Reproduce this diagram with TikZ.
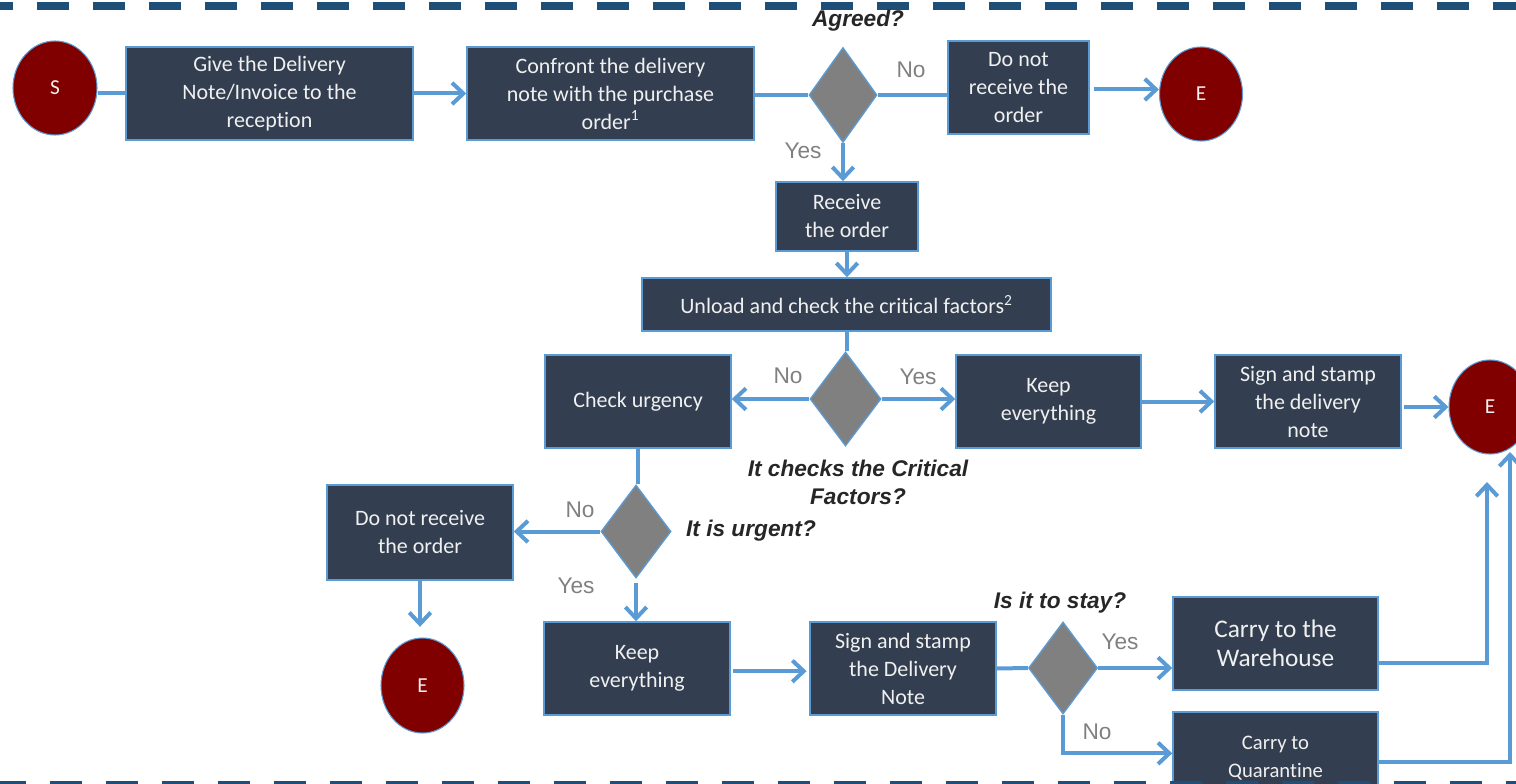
\documentclass[tikz,border=0pt]{standalone}
\usepackage{fontspec}
\setmainfont{Carlito}[Ligatures=NoCommon]
\newfontfamily\arialf{Liberation Sans}
\usetikzlibrary{arrows.meta,shapes.geometric}
\definecolor{boxfill}{HTML}{333F50}
\definecolor{edge}{HTML}{5B9BD5}
\definecolor{endred}{HTML}{800000}
\definecolor{dashblue}{HTML}{1F4E79}
\definecolor{lbl}{HTML}{808080}
\definecolor{txt}{HTML}{F0F0F0}
\begin{document}
\begin{tikzpicture}[x=0.75pt,y=-0.75pt,
  sz/.style 2 args={minimum width=#1*0.75pt, minimum height=#2*0.75pt},
  box/.style={rectangle, draw=edge, line width=1.1pt, fill=boxfill, text=txt, align=center, inner sep=0pt, font=\fontsize{16.5}{21}\selectfont},
  dec/.style={diamond, draw=edge, line width=1pt, fill=gray, inner sep=0pt},
  term/.style={ellipse, draw=edge, line width=0.8pt, fill=endred, text=txt, inner sep=0pt, font=\fontsize{16}{18}\selectfont},
  conn/.style={draw=edge, line width=3pt},
  arr/.style={conn, -{Straight Barb[length=8.5pt,width=16pt]}},
  lab/.style={text=lbl, font=\arialf\fontsize{17}{20}\selectfont},
  quest/.style={text=black!85, align=center, font=\arialf\bfseries\itshape\fontsize{17}{21}\selectfont},
  dashline/.style={dashblue, line width=6.5pt, dash pattern=on 24pt off 18pt}
]
\useasboundingbox (0,0) rectangle (1516,784);

% dashed frame lines
\draw[dashline, dash phase=14.25pt] (0,6) -- (1516,6);

% nodes
\node[term, sz={84}{94}] (s) at (55,88) {S};
\node[box, sz={287}{93}] (b1) at (269.5,93.5) {Give the Delivery\\Note/Invoice to the\\reception};
\node[box, sz={287}{93}] (b2) at (610.5,93.5) {Confront the delivery\\note with the purchase\\order\textsuperscript{1}};
\node[dec, sz={68}{95}] (d1) at (843,95) {};
\node[box, sz={141}{93}] (b3) at (1018.5,87.5) {Do not\\receive the\\order};
\node[term, sz={83}{94}] (e1) at (1201,94) {E};
\node[box, sz={142}{69}] (b4) at (847,216.5) {Receive\\the order};
\node[box, sz={409}{53}] (b5) at (846.5,304.5) {Unload and check the critical factors\textsuperscript{2}};
\node[dec, sz={71}{94}] (d2) at (845.5,399) {};
\node[box, sz={186}{93}] (cu) at (638,401.5) {Check urgency};
\node[box, sz={185}{93}] (k1) at (1048.5,401.5) {Keep\\everything};
\node[box, sz={186}{93}] (s1) at (1308,401.5) {Sign and stamp\\the delivery\\note};
\node[term, sz={82}{94}] (e2) at (1490,407) {E};
\node[dec, sz={70}{93}] (d3) at (636,531.5) {};
\node[box, sz={186}{95}] (dn) at (420,532.5) {Do not receive\\the order};
\node[term, sz={83}{95}] (e3) at (422.5,685.5) {E};
\node[box, sz={186}{93}] (k2) at (637,668.5) {Keep\\everything};
\node[box, sz={186}{93}] (s2) at (903,668.5) {Sign and stamp\\the Delivery\\Note};
\node[dec, sz={69}{92}] (d4) at (1063,668) {};
\node[box, sz={205}{93}, font=\fontsize{19}{22}\selectfont] (wareh) at (1275.5,643.5) {Carry to the\\Warehouse};
\node[box, sz={205}{92}, font=\fontsize{15.5}{21}\selectfont] (qu) at (1275.5,758) {Carry to\\Quarantine};

\draw[dashline, dash phase=4.5pt] (0,785) -- (1516,785);

% free ends
\coordinate (e3in) at ([yshift=8pt]e3.north);
\coordinate (r1) at (1487,482);
\coordinate (r2) at (1510,452);

% connectors
\draw[conn] (b1.west -| s.east) -- (b1.west);
\draw[arr] (b1.east) -- (b2.west);
\draw[conn] (d1.west -| b2.east) -- (d1.west);
\draw[conn] (d1.east) -- (d1.east -| b3.west);
\draw[arr, shorten <=3pt] ([yshift=-1.5pt]b3.east) -- ([yshift=-1.5pt]b3.east -| e1.west);
\draw[arr] (d1.south) -- (d1.south |- b4.north);
\draw[arr] (b4.south) -- (b4.south |- b5.north);
\draw[conn] (b5.south) -- (b5.south |- d2.north);
\draw[arr] (d2.west) -- (d2.west -| cu.east);
\draw[arr] (d2.east) -- (d2.east -| k1.west);
\draw[arr] (k1.east) -- (k1.east -| s1.west);
\draw[arr, shorten <=2pt] (e2.west -| s1.east) -- (e2.west);
\draw[conn] (cu.south) -- (cu.south |- d3.north);
\draw[arr] (d3.west) -- (d3.west -| dn.east);
\draw[arr] (dn.south) -- (dn.south |- e3in);
\draw[arr, shorten <=3pt] (d3.south) -- (d3.south |- k2.north);
\draw[arr, shorten <=2pt, shorten >=2pt] ([yshift=-2pt]k2.east) -- ([yshift=-2pt]k2.east -| s2.west);
\draw[conn] (s2.east) -- (d4.west);
\draw[arr] (d4.east) -- (d4.east -| wareh.west);
\draw[arr] (d4.south) |- ([yshift=3.5pt]qu.west);
\draw[arr] ([yshift=-14.6pt]wareh.east) -| (r1);
\draw[arr] ([yshift=-3pt]qu.east) -| (r2);

% labels
\node[quest] (qa) at (858,21) {Agreed?};
\node[lab] (l1) at (911,70) {No};
\node[lab] (l2) at (803,151) {Yes};
\node[lab] (l3) at (788,376) {No};
\node[lab] (l4) at (918,377) {Yes};
\node[quest] (qb) at (858,482) {It checks the Critical\\Factors?};
\node[lab] (l5) at (580,510) {No};
\node[lab] (l6) at (576,586) {Yes};
\node[quest] (qc) at (751,531) {It is urgent?};
\node[quest] (qd) at (1060,603) {Is it to stay?};
\node[lab] (l7) at (1120,642) {Yes};
\node[lab] (l8) at (1097,732) {No};
\end{tikzpicture}
\end{document}
